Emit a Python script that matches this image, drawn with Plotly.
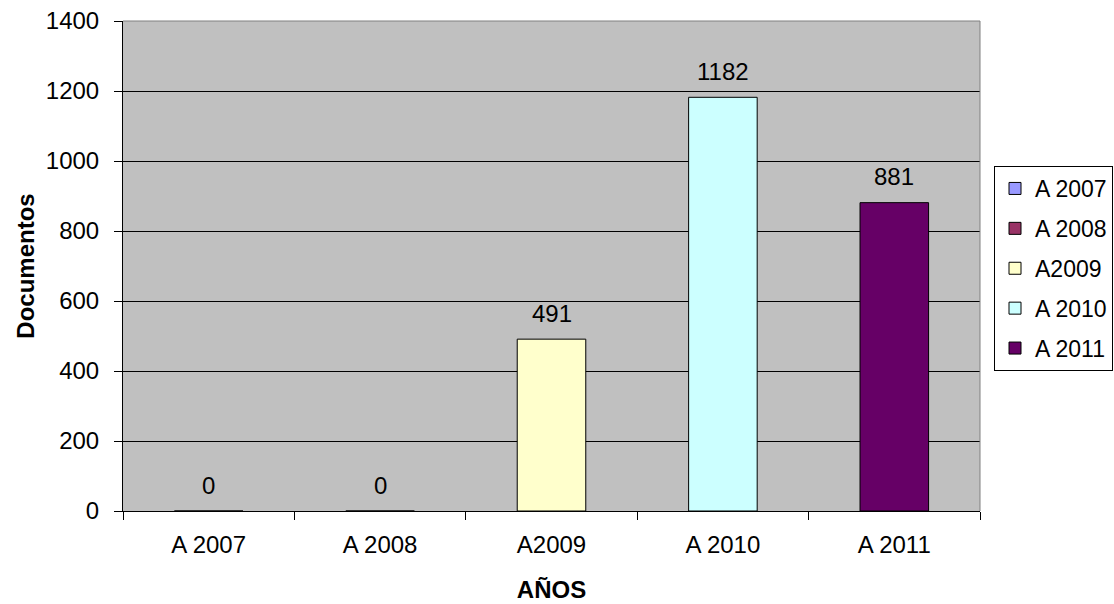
import plotly.graph_objects as go

# Documents per year
categories = ["A 2007", "A 2008", "A2009", "A 2010", "A 2011"]
documentos = [0, 0, 491, 1182, 881]
colors = ["#9999FF", "#993366", "#FFFFCC", "#CCFFFF", "#660066"]
y_ticks = [0, 200, 400, 600, 800, 1000, 1200, 1400]

FONT = "Liberation Sans, Arial, sans-serif"
SIZE = 24

fig = go.Figure()
for i, (cat, val, col) in enumerate(zip(categories, documentos, colors)):
    fig.add_trace(go.Bar(
        x=[cat], y=[val], name=cat, width=0.4,
        marker=dict(color=col, line=dict(color="black", width=1)),
        legendgroup=f"g{i}", showlegend=True,
    ))
    fig.add_annotation(
        x=cat, y=val, text=str(val), showarrow=False,
        yanchor="middle", yshift=26,
        font=dict(family=FONT, size=SIZE, color="black"),
    )

# grey frame on the top and right edges of the plot area
fig.add_shape(type="line", xref="paper", yref="paper", x0=0, x1=1, y0=1, y1=1,
              line=dict(color="#808080", width=1))
fig.add_shape(type="line", xref="paper", yref="paper", x0=1, x1=1, y0=0, y1=1,
              line=dict(color="#808080", width=1))

fig.update_layout(
    width=1114, height=604,
    margin=dict(l=123, r=134, t=21, b=93, autoexpand=False),
    paper_bgcolor="white", plot_bgcolor="#C0C0C0",
    barmode="overlay",
    font=dict(family=FONT, size=SIZE, color="black"),
    xaxis=dict(
        categoryorder="array", categoryarray=categories,
        tickson="boundaries", ticks="outside", ticklen=8, tickcolor="black",
        showline=True, linecolor="black", linewidth=1, showgrid=False,
        ticklabelstandoff=12,
        title=dict(text="<b>AÑOS</b>", font=dict(size=SIZE), standoff=24),
    ),
    yaxis=dict(
        range=[0, 1400], tickvals=y_ticks,
        ticks="outside", ticklen=8, tickcolor="black",
        showline=True, linecolor="black", linewidth=1,
        showgrid=True, gridcolor="black", gridwidth=1,
        zeroline=False, ticklabelstandoff=10,
        title=dict(text="<b>Documentos</b>", font=dict(size=SIZE), standoff=4),
    ),
    legend=dict(
        x=(994 - 123) / 857, y=(511 - 166) / 490, xanchor="left", yanchor="top",
        bgcolor="white", bordercolor="black", borderwidth=1,
        font=dict(family=FONT, size=23), itemwidth=30,
        traceorder="grouped", tracegroupgap=7,
    ),
    showlegend=True,
)

fig.write_html("out.html")
